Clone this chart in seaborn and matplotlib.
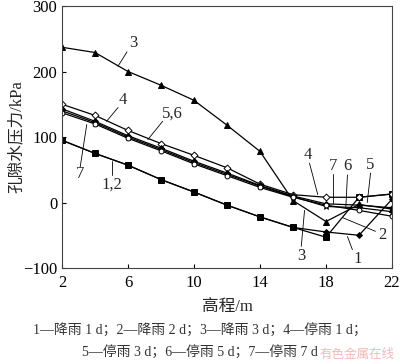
import numpy as np
import pandas as pd
import matplotlib
matplotlib.use("Agg")
import matplotlib.pyplot as plt
import seaborn as sns

elev = [2, 4, 6, 8, 10, 12, 14, 16, 18, 20, 22]
s1 = [95, 75, 57, 35, 16, -4, -22, -38, -45, -50, 5]
s2 = [95, 75, 57, 35, 16, -4, -22, -38, -53, 8, 13]
s3 = [237, 229, 200, 179, 156, 118, 78, 3, -29, -3, -10]
s4 = [150, 133, 110, 90, 72, 53, 28, 12, 8, 8, 13]
s5 = [143, 124, 102, 83, 63, 45, 26, 10, -2, -4, -8]
s6 = [140, 122, 100, 81, 61, 43, 25, 9, -6, -8, -14]
s7 = [137, 120, 98, 79, 59, 41, 23, 8, -4, -12, -21]

xticks = [2, 6, 10, 14, 18, 22]
yticks = [-100, 0, 100, 200, 300]
caption1 = "1—降雨 1 d；2—降雨 2 d；3—降雨 3 d；4—停雨 1 d；"
caption2 = "5—停雨 3 d；6—停雨 5 d；7—停雨 7 d"

sns.set_theme(style="ticks")
fam = ["Liberation Serif", "Noto Sans CJK SC"]
plt.rcParams["font.family"] = fam

fig = plt.figure(figsize=(4.0, 3.64), dpi=100)
ax = fig.add_axes([0.155, 0.2637, 0.825, 0.7198])

styles = [
    (s1, "D", "black", 3.0),
    (s2, "s", "black", 4.0),
    (s3, "^", "black", 4.0),
    (s4, "D", "white", 3.5),
    (s5, "D", "black", 3.0),
    (s6, "*", "black", 4.5),
    (s7, "o", "white", 3.5),
]
for vals, mk, fc, ms in styles:
    df = pd.DataFrame({"x": elev, "y": vals})
    sns.lineplot(data=df, x="x", y="y", ax=ax, color="black", lw=0.9,
                 marker=mk, markersize=ms, markerfacecolor=fc,
                 markeredgecolor="black", markeredgewidth=0.7)

ax.set_xlim(2, 22)
ax.set_ylim(-100, 300)
ax.set_xticks(xticks)
ax.set_yticks(yticks)
ax.tick_params(direction="in", length=3, width=0.8, labelsize=12, colors="black",
               top=False, right=False)
ax.tick_params(axis="x", pad=5)
for sp in ax.spines.values():
    sp.set_visible(True)
    sp.set_linewidth(0.8)
    sp.set_color("#444444")
ax.set_xlabel("高程/m", fontsize=12, family=fam, labelpad=6)
ax.set_ylabel("孔隙水压力/kPa", fontsize=12, family=fam, labelpad=-1)
ax.grid(False)

def lab(t, tx, ty, x0, y0, x1, y1):
    ax.text(tx, ty, t, fontsize=12, ha="center", va="center", family=fam)
    ax.plot([x0, x1], [y0, y1], color="black", lw=0.6)

lab("3", 6.3, 244, 5.94, 230, 5.39, 208)
lab("4", 5.7, 156, 5.4, 145, 4.7, 124)
lab("5,6", 8.7, 136, 8.1, 124, 7.2, 96)
lab("7", 3.1, 44, 3.1, 54, 3.5, 119)
lab("1,2", 5.0, 27, 5.0, 42, 5.0, 64)
lab("4", 16.9, 72, 17.0, 60, 17.5, 12)
lab("7", 18.4, 55, 18.4, 43, 18.4, 0)
lab("6", 19.3, 55, 19.3, 42, 19.2, -8)
lab("5", 20.7, 57, 20.7, 45, 20.5, 0)
lab("2", 21.4, -49, 21.0, -44, 19.0, -23)
lab("1", 19.9, -86, 19.6, -72, 19.3, -52)
lab("3", 16.5, -81, 16.5, -67, 16.7, -12)

fig.text(0.5, 0.092, caption1, ha="center", va="center", fontsize=10,
         color="#333333", family=fam)
fig.text(0.5, 0.032, caption2, ha="center", va="center", fontsize=10,
         color="#333333", family=fam)
fig.text(0.985, 0.025, "有色金属在线", ha="right", va="center", fontsize=9,
         color="#f4a6a6", alpha=0.8, family=fam)

fig.savefig("out.png", dpi=100)
